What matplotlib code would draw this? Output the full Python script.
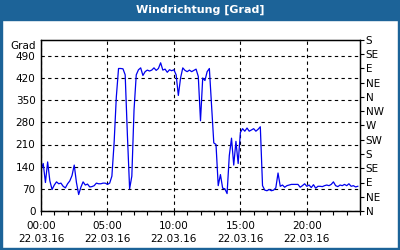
import numpy as np
import matplotlib
matplotlib.use("Agg")
from matplotlib import pyplot as plt
from matplotlib.patches import Rectangle
import matplotlib.transforms as mtransforms

# Windrichtung alle 10 Minuten, 22.03.16
wind_dir = [130, 150, 90, 155, 95, 68, 82, 92, 86, 88,
            78, 73, 86, 95, 112, 145, 90, 52, 75, 92,
            82, 85, 76, 77, 80, 88, 86, 86, 88, 88,
            84, 88, 110, 215, 360, 450, 450, 449, 430, 240,
            70, 110, 320, 430, 446, 452, 428, 440, 445, 442,
            445, 452, 444, 450, 468, 445, 448, 438, 446, 443,
            446, 430, 365, 420, 452, 444, 440, 445, 440, 444,
            448, 425, 285, 420, 412, 440, 450, 330, 215, 210,
            80, 115, 72, 70, 55, 175, 230, 145, 220, 150,
            248, 260, 252, 262, 252, 256, 260, 252, 258, 266,
            80, 66, 64, 68, 64, 66, 73, 120, 78, 82,
            75, 80, 82, 84, 84, 84, 84, 75, 80, 86,
            78, 82, 74, 83, 72, 78, 78, 77, 80, 82,
            80, 84, 92, 80, 77, 82, 80, 84, 80, 86,
            78, 80, 76, 78]
hours = np.arange(len(wind_dir)) / 6.0

left_ticks = [0, 70, 140, 210, 280, 350, 420, 490]
right_ticks = [0, 45, 90, 135, 180, 225, 270, 315, 360, 405, 450, 495, 540]
right_labels = ['N', 'NE', 'E', 'SE', 'S', 'SW', 'W', 'NW', 'N', 'NE', 'E', 'SE', 'S']
x_ticks = [0, 5, 10, 15, 20]
x_labels = ['00:00\n22.03.16', '05:00\n22.03.16', '10:00\n22.03.16',
            '15:00\n22.03.16', '20:00\n22.03.16']

blue = '#1c6398'
plt.rcParams['font.family'] = 'DejaVu Sans'
plt.rcParams['font.size'] = 7.5

fig = plt.figure(figsize=(4, 2.5), dpi=100)
fig.patch.set_facecolor('white')

# Titelleiste und Rahmen
fig.add_artist(Rectangle((0, 1 - 20 / 250), 1, 20 / 250, transform=fig.transFigure, color=blue, zorder=0))
fig.add_artist(Rectangle((0, 0), 2 / 400, 1, transform=fig.transFigure, color=blue, zorder=0))
fig.add_artist(Rectangle((1 - 2 / 400, 0), 2 / 400, 1, transform=fig.transFigure, color=blue, zorder=0))
fig.add_artist(Rectangle((0, 0), 1, 2 / 250, transform=fig.transFigure, color=blue, zorder=0))
fig.text(0.5, 1 - 10 / 250, 'Windrichtung [Grad]', color='white', fontweight='bold',
         fontsize=8, ha='center', va='center')

ax = fig.add_axes([41 / 400, 1 - 211 / 250, 319 / 400, 171 / 250])
ax.plot(hours, wind_dir, color='#0000ee', lw=0.9)
ax.set_xlim(0, 24)
ax.set_ylim(0, 540)

ax.set_yticks(left_ticks)
ax.set_xticks(x_ticks)
ax.set_xticklabels(x_labels, linespacing=1.45)
ax.set_xticks(np.arange(0, 25, 1), minor=True)
ax.tick_params(axis='y', length=0, pad=4)
ax.tick_params(axis='x', which='both', length=3, width=0.8, direction='out', pad=4)
ax.grid(True, which='major', color='black', linestyle=(0, (3, 3)), lw=0.8)
for s in ax.spines.values():
    s.set_linewidth(0.9)

trans = mtransforms.blended_transform_factory(ax.transAxes, ax.transData)
ax.text(-0.016, 522, 'Grad', transform=trans, ha='right', va='center')

ax2 = ax.twinx()
ax2.set_ylim(0, 540)
ax2.set_yticks(right_ticks)
ax2.set_yticklabels(right_labels)
ax2.tick_params(axis='y', length=3, width=0.8, direction='out', pad=1)
for s in ax2.spines.values():
    s.set_linewidth(0.9)

fig.savefig('out.png', dpi=100)
